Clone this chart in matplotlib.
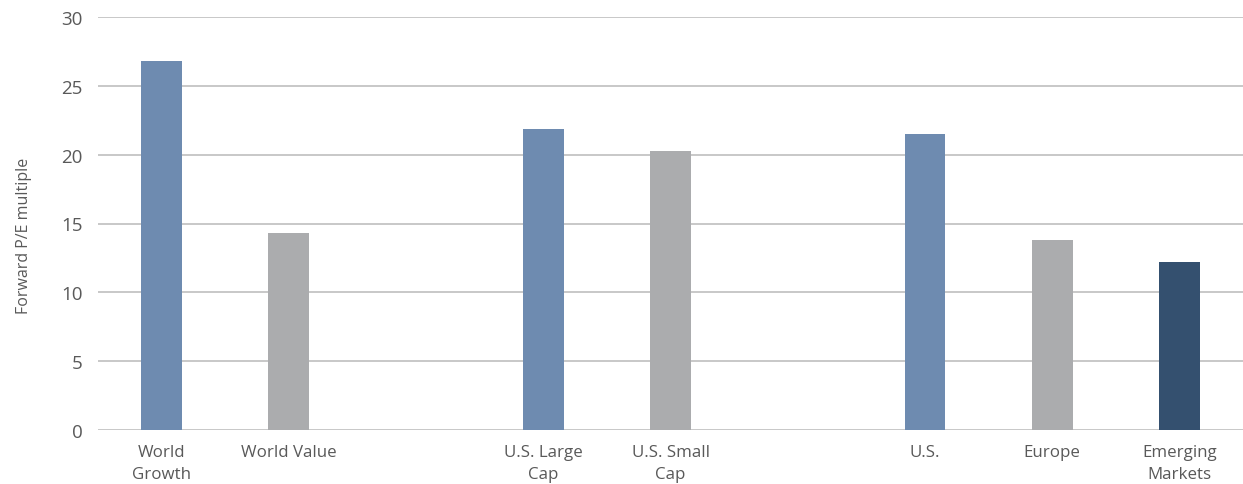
import matplotlib
matplotlib.use('Agg')
import matplotlib.pyplot as plt

plt.rcParams['font.family'] = ['Open Sans', 'DejaVu Sans']

# slots on the x axis, empty strings are the gaps between groups
categories = ['World\nGrowth', 'World Value', '', 'U.S. Large\nCap', 'U.S. Small\nCap', '',
              'U.S.', 'Europe', 'Emerging\nMarkets']
values = [26.8, 14.3, None, 21.85, 20.25, None, 21.5, 13.8, 12.2]
colors = ['#6E8BB0', '#ABACAE', None, '#6E8BB0', '#ABACAE', None, '#6E8BB0', '#ABACAE', '#34506F']
yticks = [0, 5, 10, 15, 20, 25, 30]

txt = '#595959'

fig = plt.figure(figsize=(12.43, 4.85), dpi=100)
ax = fig.add_axes([98/1243, 54/485, 1 - 98/1243, 413/485])

for i, (v, c) in enumerate(zip(values, colors)):
    if v is None:
        continue
    ax.bar(i, v, width=0.32, color=c, zorder=3)

ax.set_xlim(-0.5, 8.5)
ax.set_ylim(0, 30)
ax.set_yticks(yticks)
ax.set_xticks(range(len(categories)))
ax.set_xticklabels(categories, fontsize=12.2, color=txt, linespacing=1.5)
ax.tick_params(axis='y', labelsize=13.5, labelcolor=txt, length=0, pad=11)
ax.tick_params(axis='x', length=0, pad=10)
ax.grid(axis='y', color='#C8C8C8', lw=1.4, zorder=0)
ax.set_axisbelow(True)
for s in ax.spines.values():
    s.set_visible(False)

ax.set_ylabel('Forward P/E multiple', fontsize=11.5, color=txt)
ax.yaxis.set_label_coords(-66/1145, (431 - 236) / 413)

fig.savefig('out.png', dpi=100)
